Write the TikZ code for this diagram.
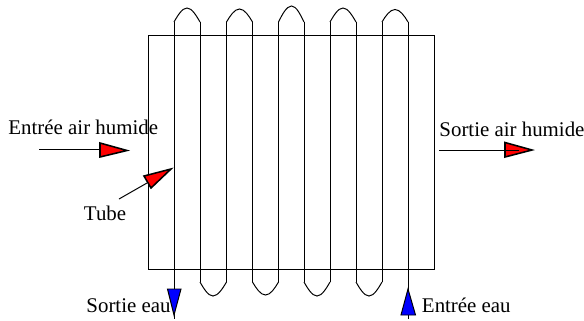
\documentclass[tikz,border=0pt]{standalone}
\usepackage{fontspec}
\setmainfont{Liberation Serif}
\begin{document}
\begin{tikzpicture}[x=0.25mm,y=-0.25mm,line width=0.7pt,every node/.style={font=\fontsize{14.85pt}{17pt}\selectfont,inner sep=0pt,anchor=base west},
  redtip/.style={draw,fill=red,line width=1.1pt,line join=miter},
  bluetip/.style={draw,fill=blue,line width=0.7pt,line join=miter}]
\useasboundingbox (0,0) rectangle (584,320);
\coordinate (Ai) at (39,149.5);
\coordinate (Aj) at (100,149.5);
\coordinate (Ao) at (439,150);
\coordinate (Ap) at (519,150);
\coordinate (Ta) at (119,199);
\coordinate (Tb) at (147,183);
\coordinate (Se) at (174,22);
\coordinate (Sf) at (174,319);
\coordinate (Ee) at (408,319);
\coordinate (Ef) at (408,22);
% echangeur
\draw (148,35) rectangle (434,269);
\draw (Se) -- (Sf);
\draw (200,22) -- (200,282);
\draw (226.5,22) -- (226.5,282);
\draw (252.5,22) -- (252.5,282);
\draw (278.5,22) -- (278.5,282);
\draw (304,22) -- (304,282);
\draw (330,22) -- (330,282);
\draw (356,22) -- (356,282);
\draw (382,22) -- (382,282);
\draw (Ee) -- (Ef);
% coudes haut
\draw (Se) .. controls (177.5,16) and (182,8) .. (187,8) .. controls (192,8) and (196.5,16) .. (200,22);
\draw (226.5,22) .. controls (230,16) and (234.5,9) .. (239.5,9) .. controls (244.5,9) and (249,16) .. (252.5,22);
\draw (278.5,22) .. controls (282,15) and (286.5,6) .. (291.5,6) .. controls (296.5,6) and (300.5,15) .. (304,22);
\draw (330,22) .. controls (333.5,16) and (338,8) .. (343,8) .. controls (348,8) and (352.5,16) .. (356,22);
\draw (382,22) .. controls (385.5,16) and (390,9.5) .. (395,9.5) .. controls (400,9.5) and (404.5,16) .. (408,22);
% coudes bas
\draw (200,282) .. controls (203.5,288) and (208,296) .. (213,296) .. controls (218,296) and (223,288) .. (226.5,282);
\draw (252.5,282) .. controls (256,288) and (260.5,295) .. (265.5,295) .. controls (270.5,295) and (275,288) .. (278.5,282);
\draw (304,282) .. controls (307.5,288) and (312,296) .. (317,296) .. controls (322,296) and (326.5,288) .. (330,282);
\draw (356,282) .. controls (359.5,288) and (364,296) .. (369,296) .. controls (374,296) and (378.5,288) .. (382,282);
% fleches
\draw (Ai) -- (Aj);
\draw[redtip] (Aj) -- (100,143) -- (127,150.5) -- (100,157) -- cycle;
\draw[redtip] (505,150) -- (505,142.5) -- (532,150) -- (505,157) -- cycle;
\draw (Ao) -- (Ap);
\draw (Ta) -- (Tb);
\draw[redtip] (144,176) -- (171,169) -- (151,188) -- cycle;
\draw[bluetip] (167.5,289) -- (181,289) -- (174,315) -- cycle;
\draw[bluetip] (408,289) -- (415.5,315) -- (401,315) -- cycle;
% textes
\node (entreeair) at (8,134) {Entrée air humide};
\node (sortieair) at (439,136) {Sortie air humide};
\node (tube) at (83.5,220) {Tube};
\node (sortieeau) at (86,312) {Sortie eau};
\node (entreeeau) at (421.5,312.5) {Entrée eau};
\end{tikzpicture}
\end{document}
